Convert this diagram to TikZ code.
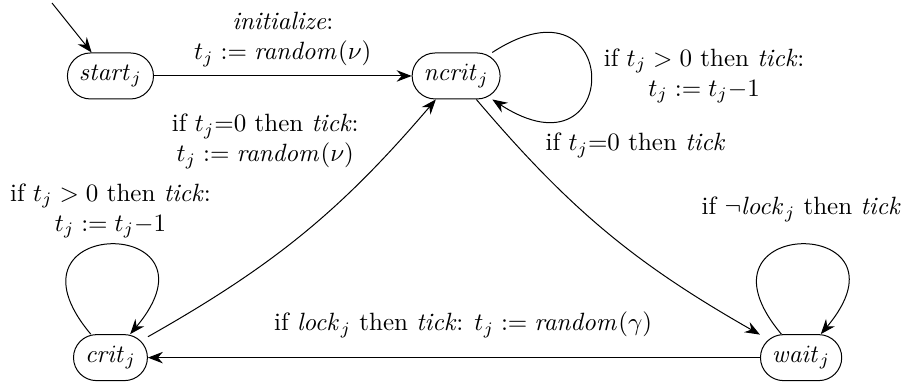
\documentclass[tikz,border=0pt]{standalone}
\usepackage{amsmath,amssymb}
\usetikzlibrary{arrows.meta,positioning,calc}
\tikzset{
  >={Stealth[length=6pt,width=4.6pt,inset=2pt]},
  trans/.style={->, draw=black, line join=round},
  locnode/.style={shape=rectangle, rounded corners=9.2pt, draw=black, minimum height=18.4pt, inner xsep=4.6pt, inner ysep=3pt},
  translabel/.style={align=center, inner sep=3.33pt}
}
\begin{document}
\begin{tikzpicture}[node distance=39.6mm and 48.6mm, on grid]
  \node[locnode] (start) {$\mathit{start}_j$};
  \node[locnode, right=of start] (ncrit) {$\mathit{ncrit}_j$};
  \node[locnode, below=of start] (crit) {$\mathit{crit}_j$};
  \node[locnode, right=97.1mm of crit] (wait) {$\mathit{wait}_j$};

  \useasboundingbox ($(start.center)+(-15.53mm,10.68mm)$) rectangle ++(127.1mm,-53.7mm);

  % initial state
  \coordinate (entry) at ($(start.center)+(-8.22mm,10.26mm)$);
  \draw[trans] (entry) -- (start);

  \draw[trans] (start) -- node[translabel, above] {\textit{initialize}:\\ $t_j := \mathit{random}(\nu)$} (ncrit);
  \draw[trans] (ncrit) to[out=33, in=-33, distance=22mm] node[translabel, right=1.7pt] {if $t_j > 0$ then \textit{tick}:\\ $t_j := t_j{-}1$} (ncrit);
  \draw[trans] (ncrit) to[bend right=10] node[translabel, pos=0.15, right=8pt] {if $t_j{=}0$ then \textit{tick}} (wait);
  \draw[trans] (crit) to[bend right=10] node[translabel, pos=0.745, above left, yshift=-1.2pt] {if $t_j{=}0$ then \textit{tick}:\\ $t_j := \mathit{random}(\nu)$} (ncrit);

  % self loops
  \draw[trans] (crit) to[out=130, in=50, distance=21.9mm] node[translabel, above=-1pt] {if $t_j > 0$ then \textit{tick}:\\ $t_j := t_j{-}1$} (crit);
  \draw[trans] (wait) to[out=130, in=50, distance=21.9mm] node[translabel, above=5.5pt] {if $\neg\mathit{lock}_j$ then \textit{tick}} (wait);

  \draw[trans] (wait) -- node[translabel, pos=0.485, above=4.5pt] {if $\mathit{lock}_j$ then \textit{tick}: $t_j := \mathit{random}(\gamma)$} (crit);
\end{tikzpicture}
\end{document}
